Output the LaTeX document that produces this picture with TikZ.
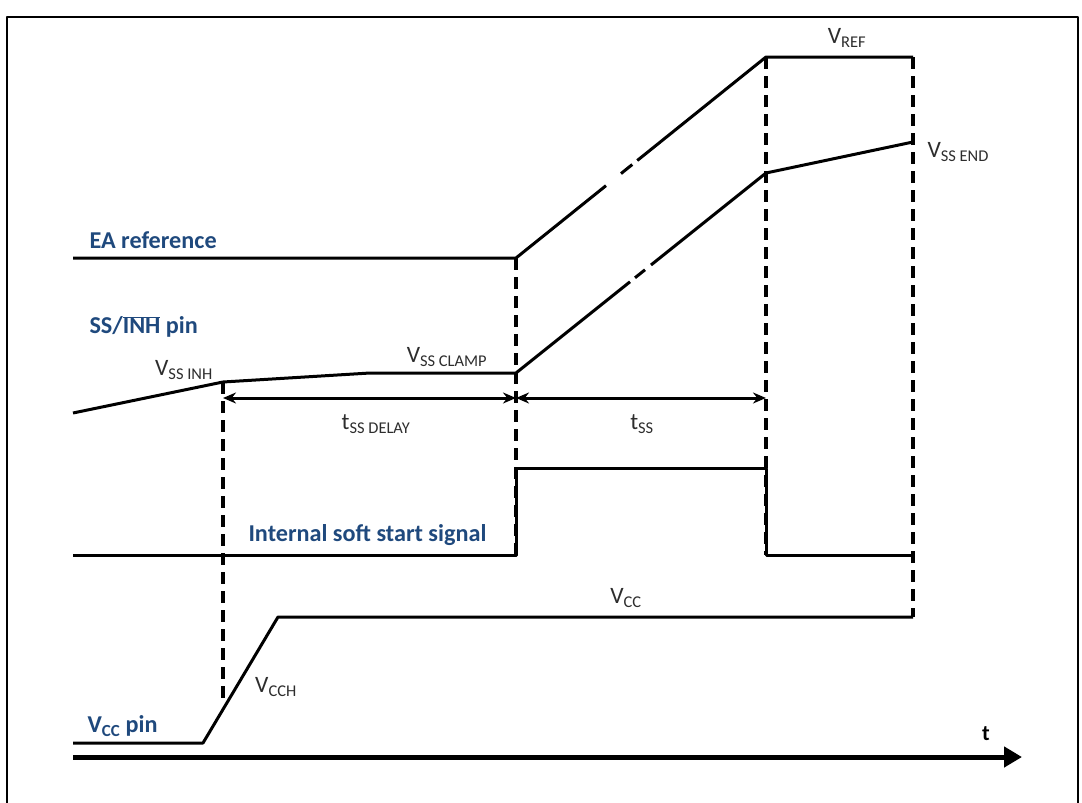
\documentclass[tikz,border=0pt]{standalone}
\usepackage{fontspec}
\setmainfont{Carlito}
\usetikzlibrary{arrows.meta,calc}
\begin{document}
\begin{tikzpicture}[x=1pt, y=-1pt, line join=round]
  \definecolor{sigblue}{RGB}{31,73,125}
  \definecolor{valgray}{RGB}{45,45,45}
  \tikzset{
    wave/.style={line width=3pt},
    guide/.style={line width=3.5pt, dash pattern=on 12pt off 7pt},
    sigtext/.style={font=\fontsize{24.2}{27}\selectfont\bfseries, text=sigblue},
    valtext/.style={font=\fontsize{23.5}{25}\selectfont, text=valgray},
    span/.style={line width=3pt, {Stealth[length=13pt,width=11pt]}-{Stealth[length=13pt,width=11pt]}}
  }
  \useasboundingbox (0,0) rectangle (1082,803);
  % frame
  \draw[line width=2.5pt] (7,810) -- (7,17) -- (1078,17) -- (1078,810);
  % key instants
  \coordinate (ea0) at (73,258);
  \coordinate (ea1) at (516,258);
  \coordinate (ea2) at (766,57);
  \coordinate (ea3) at (913,57);
  \coordinate (ss0) at (73,413);
  \coordinate (ss1) at (223,382);
  \coordinate (ss2) at (370,373);
  \coordinate (ss3) at (516,373);
  \coordinate (ss4) at (766,173);
  \coordinate (ss5) at (913,142);
  \coordinate (st0) at (73,555);
  \coordinate (st1) at (516,555);
  \coordinate (st2) at (516,468);
  \coordinate (st3) at (766,468);
  \coordinate (st4) at (766,555);
  \coordinate (st5) at (913,555);
  \coordinate (vc0) at (73,743);
  \coordinate (vc1) at (203,743);
  \coordinate (vc2) at (278,617);
  \coordinate (vc3) at (913,617);
  \coordinate (vch) at (223,705);
  \coordinate (ax0) at (73,757);
  \coordinate (ax1) at (1022,757);
  % EA reference
  \draw[wave] (ea0) -- (ea1) -- ($(ea1)!0.36!(ea2)$);
  \draw[wave] ($(ea1)!0.42!(ea2)$) -- ($(ea1)!0.465!(ea2)$);
  \draw[wave] ($(ea1)!0.485!(ea2)$) -- (ea2) -- (ea3);
  % SS/INH pin
  \draw[wave] (ss0) -- (ss1) -- (ss2) -- (ss3) -- ($(ss3)!0.456!(ss4)$);
  \draw[wave] ($(ss3)!0.476!(ss4)$) -- ($(ss3)!0.516!(ss4)$);
  \draw[wave] ($(ss3)!0.54!(ss4)$) -- (ss4) -- (ss5);
  % internal soft start
  \draw[wave] (st0) -- (st1) -- (st2) -- (st3) -- (st4) -- (st5);
  % Vcc pin
  \draw[wave] (vc0) -- (vc1) -- (vc2) -- (vc3);
  % guides
  \draw[guide] (ss1) -- (vch);
  \draw[guide] (ea1) -- (st1);
  \draw[guide] (ea2) -- (st4);
  \draw[guide] (ea3) -- (vc3);
  % spans
  \draw[span] (223,398) -- (516,398);
  \draw[span] (516,398) -- (766,398);
  % time axis
  \draw[line width=5pt, -{Triangle[length=18pt,width=20pt]}] (ax0) -- (ax1);
  % labels
  \node[sigtext, anchor=west] (eaLbl) at (86,240) {EA reference};
  \node[sigtext, anchor=west] (ssLbl) at (86,327) {SS/$\overline{\mbox{INH}}$ pin};
  \node[sigtext, anchor=west] (stLbl) at (245,535) {Internal soft start signal};
  \node[sigtext, anchor=west] (vcLbl) at (84,726) {V\textsubscript{CC} pin};
  \node[valtext] (vssinh) at (184,370) {V\textsubscript{SS INH}};
  \node[valtext] (vssclamp) at (447,357) {V\textsubscript{SS CLAMP}};
  \node[valtext] (tdelay) at (376,424) {t\textsubscript{SS DELAY}};
  \node[valtext] (tss) at (642,424) {t\textsubscript{SS}};
  \node[valtext] (vref) at (847,38) {V\textsubscript{REF}};
  \node[valtext, anchor=west] (vssend) at (924,152) {V\textsubscript{SS END}};
  \node[valtext] (vcc) at (626,598) {V\textsubscript{CC}};
  \node[valtext] (vcch) at (276,687) {V\textsubscript{CCH}};
  \node[font=\fontsize{22}{24}\selectfont\bfseries] (tLbl) at (986,734) {t};
\end{tikzpicture}
\end{document}
